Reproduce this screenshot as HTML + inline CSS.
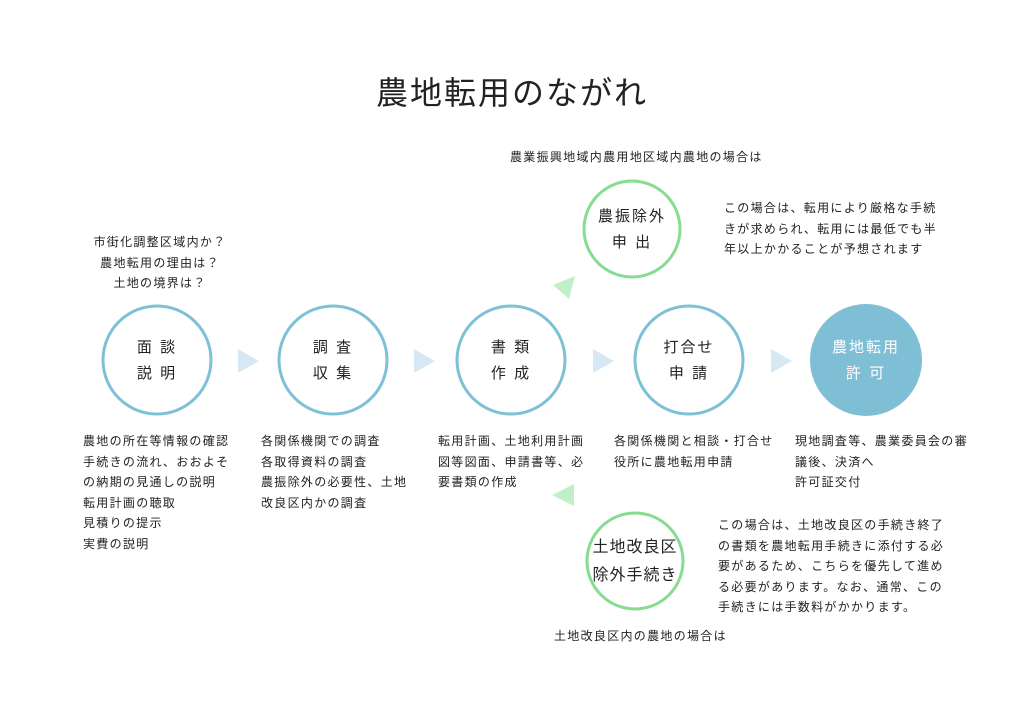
<!DOCTYPE html>
<html><head><meta charset="utf-8"><style>
body{margin:0;width:1024px;height:724px;background:#fff;position:relative;overflow:hidden;font-family:"Liberation Sans","Noto Sans CJK JP",sans-serif;color:#222}
.t{position:absolute;font-size:12px;letter-spacing:1.3px;line-height:20.5px;white-space:nowrap}
.c{position:absolute;font-size:15px;letter-spacing:2px;line-height:26px;text-align:center;white-space:nowrap;transform:translate(-50%,-50%)}
</style></head><body>
<svg width="1024" height="724" style="position:absolute;left:0;top:0">
<g fill="none" stroke="#7ec0d6" stroke-width="3">
<circle cx="157" cy="360" r="54"/><circle cx="333" cy="360" r="54"/><circle cx="511" cy="360" r="54"/><circle cx="689" cy="360" r="54"/>
</g>
<circle cx="866" cy="360" r="56" fill="#7fbfd6"/>
<g fill="none" stroke="#86dc90" stroke-width="3">
<circle cx="632" cy="229" r="48"/><circle cx="635" cy="561" r="48"/>
</g>
<g fill="#d6e8f4">
<polygon points="238,349 238,373 259,361"/><polygon points="414,349 414,373 435,361"/><polygon points="593,349 593,373 614,361"/><polygon points="771,349 771,373 792,361"/>
</g>
<g fill="#c3efc8">
<polygon points="575,276 553,285 569,299"/><polygon points="574,484 574,506 552,495"/>
</g>
</svg>
<div class="t" style="left:0;width:1024px;top:72px;text-align:center;font-size:32px;line-height:42px;letter-spacing:2px">農地転用のながれ</div>
<div class="t" style="left:510px;top:147px">農業振興地域内農用地区域内農地の場合は</div>
<div class="t" style="left:60px;width:200px;top:232px;text-align:center">市街化調整区域内か？<br>農地転用の理由は？<br>土地の境界は？</div>
<div class="t" style="left:724px;top:198px">この場合は、転用により厳格な手続<br>きが求められ、転用には最低でも半<br>年以上かかることが予想されます</div>
<div class="c" style="left:157px;top:361px">面 談<br>説 明</div>
<div class="c" style="left:333px;top:361px">調 査<br>収 集</div>
<div class="c" style="left:511px;top:361px">書 類<br>作 成</div>
<div class="c" style="left:689px;top:361px">打合せ<br>申 請</div>
<div class="c" style="left:866px;top:361px;color:#fff">農地転用<br>許 可</div>
<div class="c" style="left:632px;top:230px">農振除外<br>申 出</div>
<div class="c" style="left:635px;top:562px;font-size:16px;letter-spacing:1px;line-height:28px">土地改良区<br>除外手続き</div>
<div class="t" style="left:83px;top:431px">農地の所在等情報の確認<br>手続きの流れ、おおよそ<br>の納期の見通しの説明<br>転用計画の聴取<br>見積りの提示<br>実費の説明</div>
<div class="t" style="left:261px;top:431px">各関係機関での調査<br>各取得資料の調査<br>農振除外の必要性、土地<br>改良区内かの調査</div>
<div class="t" style="left:438px;top:431px">転用計画、土地利用計画<br>図等図面、申請書等、必<br>要書類の作成</div>
<div class="t" style="left:614px;top:431px">各関係機関と相談・打合せ<br>役所に農地転用申請</div>
<div class="t" style="left:795px;top:431px">現地調査等、農業委員会の審<br>議後、決済へ<br>許可証交付</div>
<div class="t" style="left:718px;top:515px">この場合は、土地改良区の手続き終了<br>の書類を農地転用手続きに添付する必<br>要があるため、こちらを優先して進め<br>る必要があります。なお、通常、この<br>手続きには手数料がかかります。</div>
<div class="t" style="left:554px;top:626px">土地改良区内の農地の場合は</div>
</body></html>
